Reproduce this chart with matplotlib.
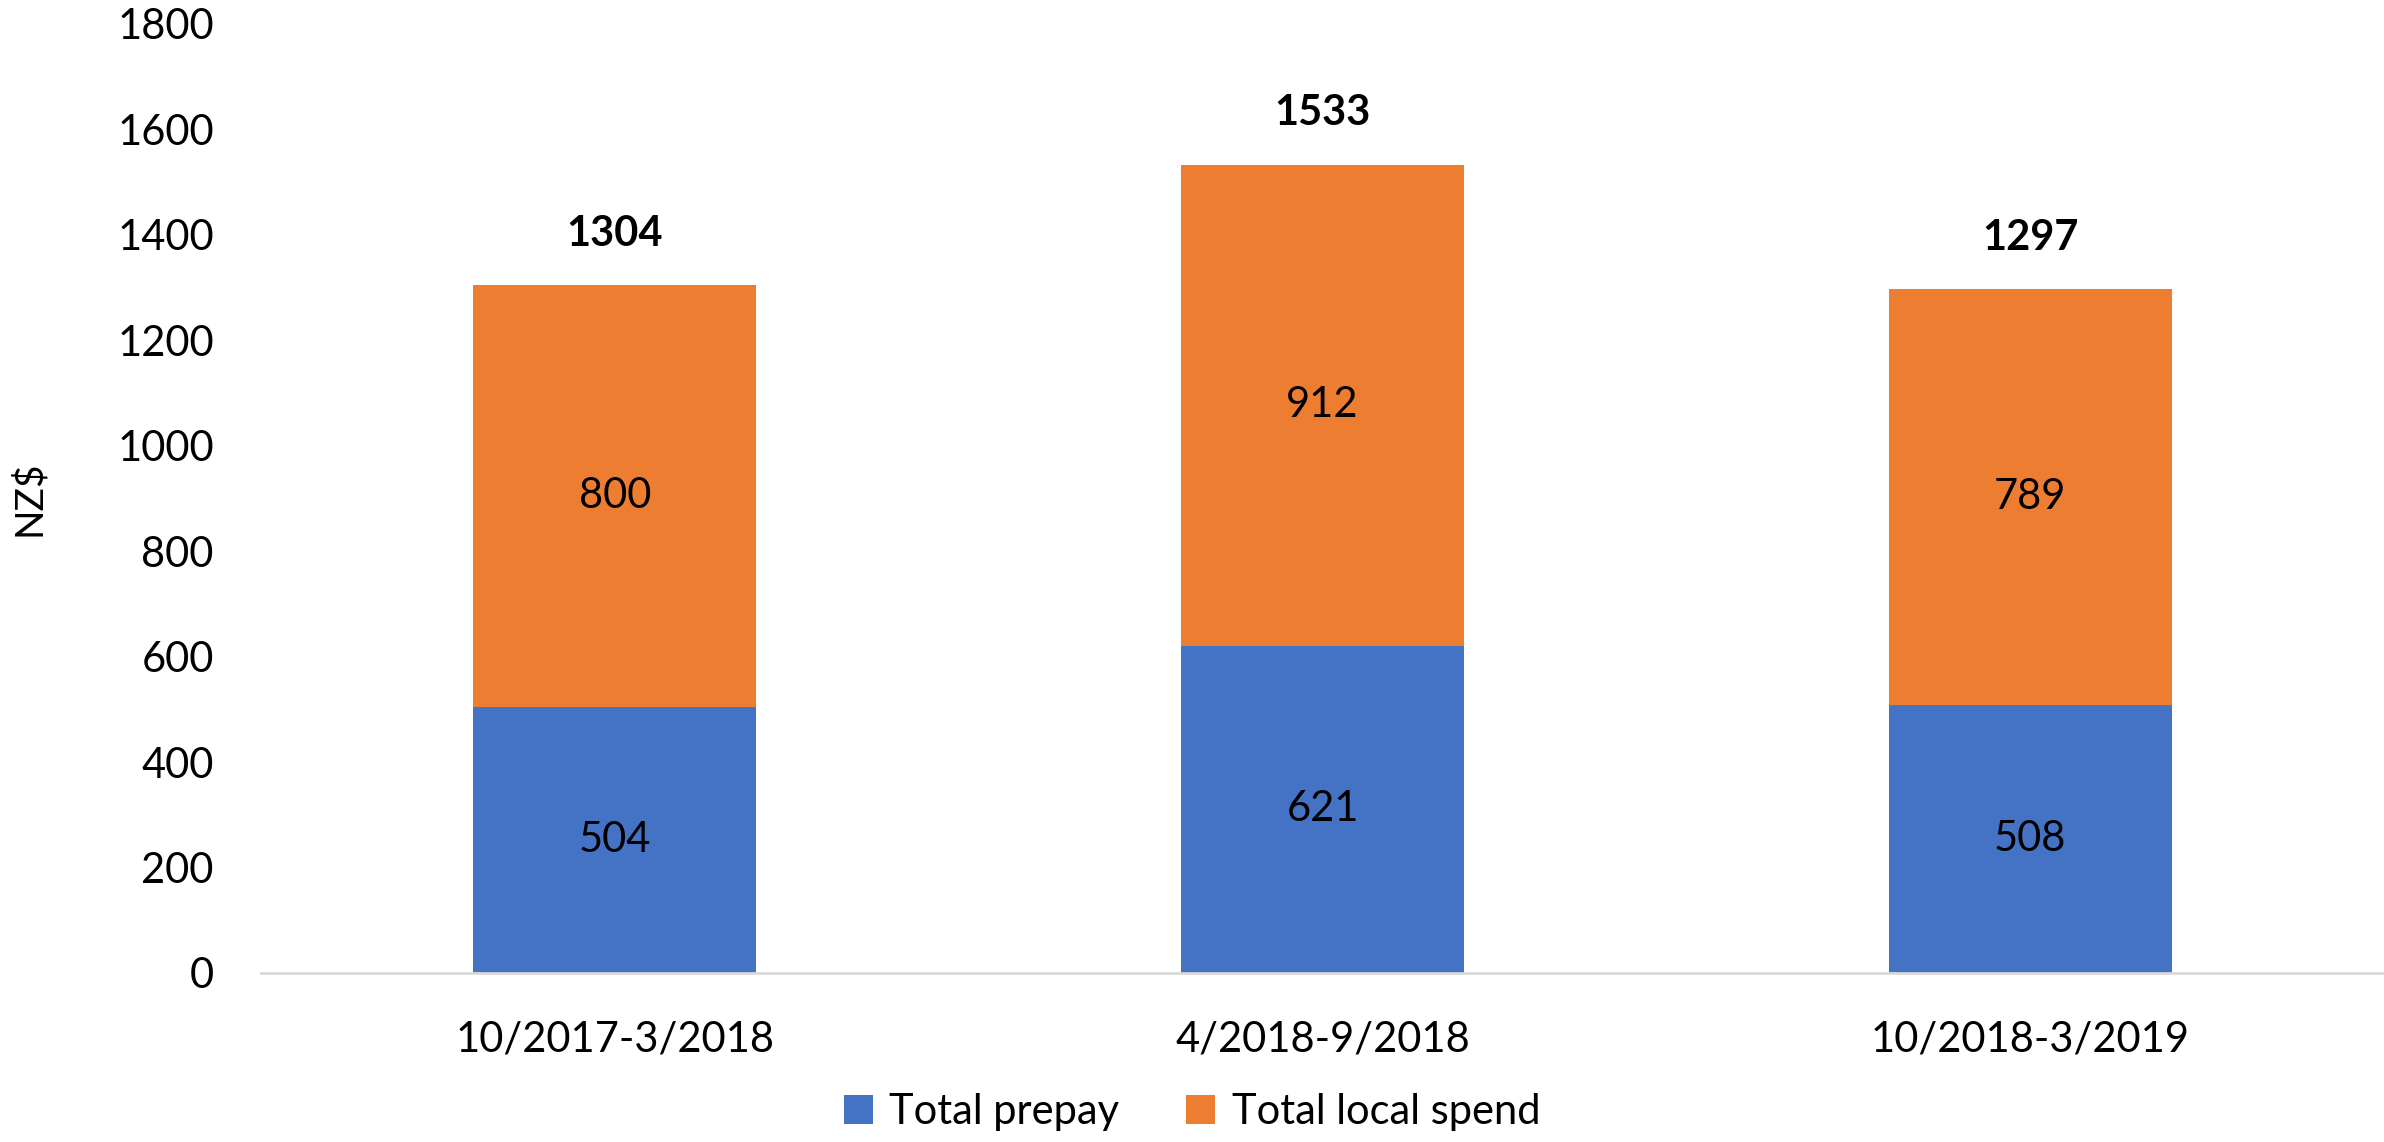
import matplotlib.pyplot as plt
import numpy as np

periodos = ['10/2017-3/2018', '4/2018-9/2018', '10/2018-3/2019']
prepay = [504, 621, 508]
local_spend = [800, 912, 789]
totais = [1304, 1533, 1297]

azul = '#4472C4'
laranja = '#ED7D31'

plt.rcParams['font.family'] = ['Lato', 'DejaVu Sans']

fig = plt.figure(figsize=(23.84, 11.42), dpi=100)
ax = fig.add_axes([0.1095, 0.148, 0.8905, 0.831])

x = np.arange(len(periodos))
b1 = ax.bar(x, prepay, width=0.4, color=azul, label='Total prepay')
b2 = ax.bar(x, local_spend, width=0.4, bottom=prepay, color=laranja, label='Total local spend')

# rótulos dentro das barras
ax.bar_label(b1, labels=[str(v) for v in prepay], label_type='center', fontsize=30)
ax.bar_label(b2, labels=[str(v) for v in local_spend], label_type='center', fontsize=30)

# totais em negrito acima
for xi, t in zip(x, totais):
    ax.annotate(str(t), (xi, t), xytext=(0, 37), textcoords='offset points',
                ha='center', va='center', fontsize=30, fontweight='bold')

ax.set_xlim(-0.5, 2.5)
ax.set_ylim(0, 1800)
ax.set_yticks(range(0, 1801, 200))
ax.set_xticks(x)
ax.set_xticklabels(periodos)
ax.tick_params(axis='both', length=0, labelsize=30)
ax.tick_params(axis='y', pad=34)
ax.tick_params(axis='x', pad=34)

for s in ['top', 'right', 'left']:
    ax.spines[s].set_visible(False)
ax.spines['bottom'].set_color('#D9D9D9')
ax.spines['bottom'].set_linewidth(2)

fig.text(0.012, 0.5 * (0.148 + 0.979), 'NZ$', rotation=90, va='center', ha='center', fontsize=28)

fig.legend(loc='center', bbox_to_anchor=(0.5, 0.026), ncol=2, frameon=False, fontsize=30,
           handlelength=0.7, handleheight=0.7, columnspacing=1.6, handletextpad=0.4)

fig.savefig('out.png', dpi=100)
